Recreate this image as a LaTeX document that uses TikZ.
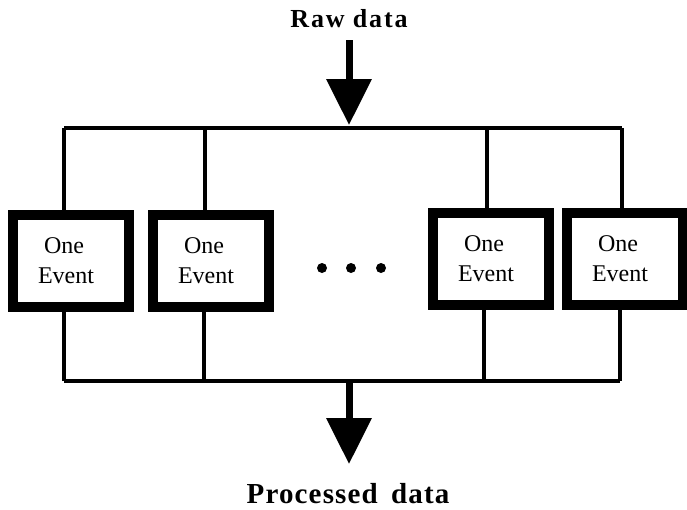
\documentclass[tikz,border=0pt]{standalone}
\usepackage{fontspec}
\setmainfont{Liberation Serif}
\usetikzlibrary{arrows.meta}

\begin{document}
\begin{tikzpicture}[x=1pt,y=-1pt,>={Triangle[length=46pt,width=44pt]},line join=miter,
  evbox/.style={draw,line width=10pt,minimum width=116pt,minimum height=92pt,align=center,inner sep=0pt,font=\fontsize{24}{30}\selectfont},
  bus/.style={line width=3.5pt},
  io/.style={anchor=base,font=\bfseries\fontsize{25}{30}\selectfont}]
\useasboundingbox (0,0) rectangle (687,509);
\coordinate (rawtop) at (349,40);
\coordinate (intap) at (349,125);
\coordinate (t1) at (64,128);
\coordinate (t2) at (205,128);
\coordinate (t3) at (487,128);
\coordinate (t4) at (622,128);
\coordinate (b1) at (64,381);
\coordinate (b2) at (204,381);
\coordinate (b3) at (484,381);
\coordinate (b4) at (620,381);
\coordinate (outtap) at (349,381);
\coordinate (outtip) at (349,464);
\node[evbox] (e1) at (71,261) {One\hspace*{14pt}\\Event\hspace*{10pt}};
\node[evbox] (e2) at (211,261) {One\hspace*{14pt}\\Event\hspace*{10pt}};
\node[evbox] (e3) at (491,259) {One\hspace*{14pt}\\Event\hspace*{10pt}};
\node[evbox] (e4) at (625,259) {One\hspace*{14pt}\\Event\hspace*{10pt}};
\foreach \i/\x in {1/322,2/351,3/381}
  \node[circle,fill,inner sep=0pt,minimum size=10pt] (dot\i) at (\x,268) {};
% input side
\draw[->,line width=7pt] (rawtop) -- (intap);
\draw[bus] (t1) -- (t4);
\draw[bus] (t1) -- (t1 |- e1.north);
\draw[bus] (t2) -- (t2 |- e2.north);
\draw[bus] (t3) -- (t3 |- e3.north);
\draw[bus] (t4) -- (t4 |- e4.north);
% output side
\draw[bus] (b1) -- (b4);
\draw[bus] (b1) -- (b1 |- e1.south);
\draw[bus] (b2) -- (b2 |- e2.south);
\draw[bus] (b3) -- (b3 |- e3.south);
\draw[bus] (b4) -- (b4 |- e4.south);
\draw[->,line width=7pt] (outtap) -- (outtip);
\node[io,font=\bfseries\fontsize{26}{30}\selectfont\addfontfeature{LetterSpace=7}] (raw) at (349,27) {Raw data};
\node[io,font=\bfseries\fontsize{29}{34}\selectfont\addfontfeature{LetterSpace=4}] (proc) at (348,503) {Processed\, data};
\end{tikzpicture}
\end{document}
